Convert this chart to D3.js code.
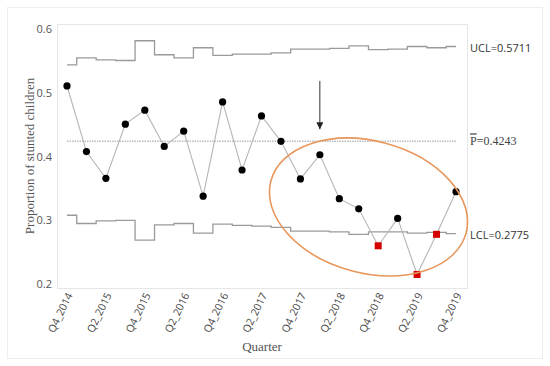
<!DOCTYPE html>
<html>
<head>
<meta charset="utf-8">
<script src="https://cdn.jsdelivr.net/npm/d3@7"></script>
<style>
  body { margin: 0; background: #fff; }
  svg { display: block; }
  .tick-y { font: 11px "Open Sans", sans-serif; fill: #555; }
  .tick-x { font: 10.5px "Open Sans", sans-serif; fill: #444; }
  .limit-label { font: 11px "Open Sans", sans-serif; fill: #333; }
  .title { font: 13px "Liberation Serif", serif; fill: #555; }
</style>
</head>
<body>
<div id="chart"></div>
<script>
// Quarters (x categories)
const quarters = [
  'Q4_2014', 'Q1_2015', 'Q2_2015', 'Q3_2015', 'Q4_2015',
  'Q1_2016', 'Q2_2016', 'Q3_2016', 'Q4_2016',
  'Q1_2017', 'Q2_2017', 'Q3_2017', 'Q4_2017',
  'Q1_2018', 'Q2_2018', 'Q3_2018', 'Q4_2018',
  'Q1_2019', 'Q2_2019', 'Q3_2019', 'Q4_2019'
]
// Only every other quarter gets a label
const tickLabels = [
  'Q4_2014', 'Q2_2015', 'Q4_2015', 'Q2_2016', 'Q4_2016', 'Q2_2017',
  'Q4_2017', 'Q2_2018', 'Q4_2018', 'Q2_2019', 'Q4_2019'
]
const yTicks = [0.2, 0.3, 0.4, 0.5, 0.6]

// Proportion of stunted children per quarter
const proportion = [
  0.511, 0.408, 0.366, 0.451, 0.473, 0.416, 0.440, 0.338, 0.486, 0.379,
  0.464, 0.424, 0.365, 0.403, 0.334, 0.318, 0.260, 0.303, 0.215, 0.278, 0.345
]
// Control limits (vary with sample size)
const ucl = [
  0.544, 0.555, 0.552, 0.551, 0.582, 0.560, 0.555, 0.571, 0.559, 0.561,
  0.561, 0.563, 0.569, 0.569, 0.570, 0.574, 0.568, 0.569, 0.573, 0.571, 0.573
]
const lcl = [
  0.308, 0.295, 0.299, 0.300, 0.269, 0.293, 0.295, 0.280, 0.294, 0.292,
  0.291, 0.289, 0.283, 0.283, 0.282, 0.278, 0.282, 0.282, 0.280, 0.281, 0.279
]
const pBar = 0.4243
const uclLast = 0.5711
const lclLast = 0.2775

// arrow marks the intervention quarter
const arrowQuarter = 'Q1_2018'

const width = 550
const height = 366
const frame = { left: 57, right: 467, top: 24, bottom: 288 }

const svg = d3.select('#chart')
  .append('svg')
  .attr('width', width)
  .attr('height', height)

// outer figure border
svg.append('rect')
  .attr('x', 7.5).attr('y', 7.5)
  .attr('width', 535).attr('height', 351)
  .attr('fill', 'none')
  .attr('stroke', '#eeeeee')

// plot frame
svg.append('rect')
  .attr('x', frame.left + 0.5).attr('y', frame.top + 0.5)
  .attr('width', frame.right - frame.left)
  .attr('height', frame.bottom - frame.top)
  .attr('fill', 'none')
  .attr('stroke', '#e6e6e6')

const x = d3.scalePoint()
  .domain(quarters)
  .range([67, 456])

const y = d3.scaleLinear()
  .domain([0.2, 0.6])
  .range([284, 29.3])

// y tick labels
svg.append('g')
  .selectAll('text')
  .data(yTicks)
  .enter()
  .append('text')
  .attr('class', 'tick-y')
  .attr('x', 52)
  .attr('y', d => y(d))
  .attr('dy', '0.35em')
  .attr('text-anchor', 'end')
  .text(d => d3.format('.1f')(d))

// x tick labels, rotated
svg.append('g')
  .selectAll('text')
  .data(tickLabels)
  .enter()
  .append('text')
  .attr('class', 'tick-x')
  .attr('text-anchor', 'end')
  .attr('transform', d => `translate(${x(d) + 6}, 295) rotate(-64)`)
  .text(d => d)

// axis titles
svg.append('text')
  .attr('class', 'title')
  .attr('text-anchor', 'middle')
  .attr('x', (frame.left + frame.right) / 2)
  .attr('y', 351)
  .text('Quarter')

svg.append('text')
  .attr('class', 'title')
  .attr('text-anchor', 'middle')
  .attr('transform', `translate(34, ${(frame.top + frame.bottom) / 2}) rotate(-90)`)
  .text('Proportion of stunted children')

// Step lines for the control limits
const step = d3.line()
  .x((d, i) => x(quarters[i]))
  .y(d => y(d))
  .curve(d3.curveStep)

svg.append('path')
  .attr('d', step(ucl))
  .attr('fill', 'none')
  .attr('stroke', '#9a9a9a')
  .attr('stroke-width', 1.3)

svg.append('path')
  .attr('d', step(lcl))
  .attr('fill', 'none')
  .attr('stroke', '#9a9a9a')
  .attr('stroke-width', 1.3)

// center line
svg.append('line')
  .attr('x1', x(quarters[0]))
  .attr('x2', x(quarters[quarters.length - 1]))
  .attr('y1', y(pBar))
  .attr('y2', y(pBar))
  .attr('stroke', '#999')
  .attr('stroke-width', 1)
  .attr('stroke-dasharray', '1.5,1')

// limit labels
const labelX = 470
svg.append('text')
  .attr('class', 'limit-label')
  .attr('x', labelX).attr('y', y(uclLast))
  .attr('dy', '0.35em')
  .text('UCL=' + uclLast)

svg.append('text')
  .attr('class', 'limit-label')
  .attr('x', labelX).attr('y', y(lclLast))
  .attr('dy', '0.35em')
  .text('LCL=' + lclLast)

const pLabel = svg.append('text')
  .attr('x', labelX).attr('y', y(pBar))
  .attr('dy', '0.35em')
  .style('font', '12px "Liberation Serif", serif')
  .style('fill', '#444')
pLabel.append('tspan')
  .style('text-decoration', 'overline')
  .text('P')
pLabel.append('tspan').text('=' + pBar)

// data line
const line = d3.line()
  .x((d, i) => x(quarters[i]))
  .y(d => y(d))

svg.append('path')
  .attr('d', line(proportion))
  .attr('fill', 'none')
  .attr('stroke', '#b5b5b5')
  .attr('stroke-width', 1.1)

// points: red square when outside the limits
const pts = proportion.map((p, i) => ({
  q: quarters[i], p, out: p < lcl[i] || p > ucl[i]
}))

svg.append('g')
  .selectAll('circle')
  .data(pts.filter(d => !d.out))
  .enter()
  .append('circle')
  .attr('cx', d => x(d.q))
  .attr('cy', d => y(d.p))
  .attr('r', 3.6)
  .attr('fill', '#000')

const sq = 7
svg.append('g')
  .selectAll('rect')
  .data(pts.filter(d => d.out))
  .enter()
  .append('rect')
  .attr('x', d => x(d.q) - sq / 2)
  .attr('y', d => y(d.p) - sq / 2)
  .attr('width', sq)
  .attr('height', sq)
  .attr('fill', '#d40000')

// arrow
svg.append('defs')
  .append('marker')
  .attr('id', 'arrow')
  .attr('viewBox', '0 0 10 10')
  .attr('refX', 10).attr('refY', 5)
  .attr('markerWidth', 7).attr('markerHeight', 7)
  .attr('markerUnits', 'userSpaceOnUse')
  .attr('orient', 'auto')
  .append('path')
  .attr('d', 'M0,0 L10,5 L0,10 z')
  .attr('fill', '#222')

svg.append('line')
  .attr('x1', x(arrowQuarter)).attr('x2', x(arrowQuarter))
  .attr('y1', y(0.519)).attr('y2', y(0.443))
  .attr('stroke', '#333')
  .attr('stroke-width', 1)
  .attr('marker-end', 'url(#arrow)')

// ellipse around the last quarters
const ellCx = (x('Q3_2018') + x('Q4_2018')) / 2
svg.append('ellipse')
  .attr('transform', `translate(${ellCx}, ${y(0.321)}) rotate(15)`)
  .attr('rx', 101)
  .attr('ry', 66)
  .attr('fill', 'none')
  .attr('stroke', '#e8965a')
  .attr('stroke-width', 1.6)
</script>
</body>
</html>
